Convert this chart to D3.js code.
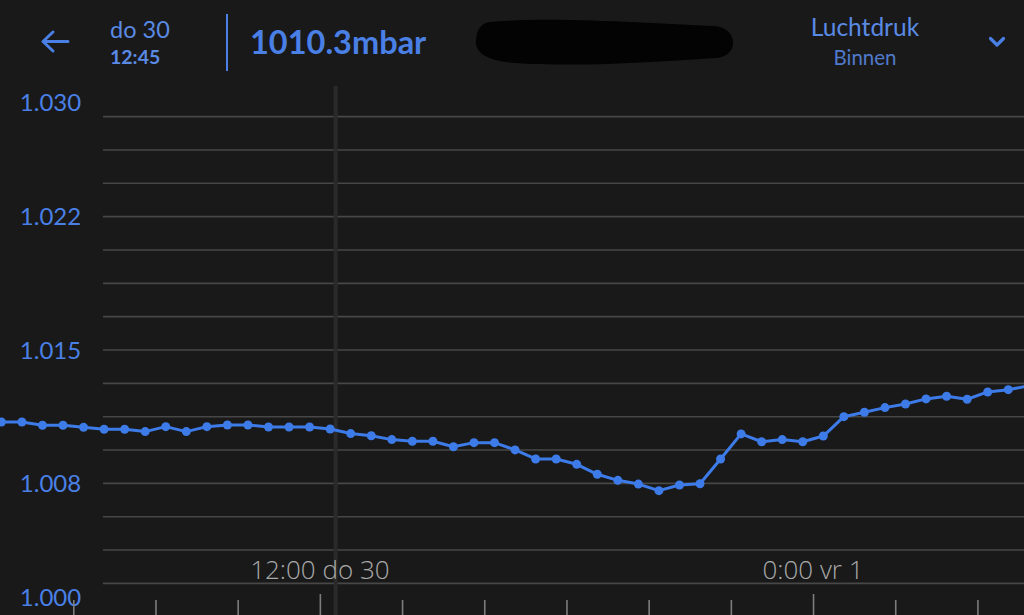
<!DOCTYPE html>
<html lang="nl">
<head>
  <meta charset="UTF-8">
  <title>Luchtdruk Binnen</title>
  <script src="https://d3js.org/d3.v7.min.js"></script>
  <style>
    html, body { margin: 0; padding: 0; background: #191919; }
    svg { display: block; }
  </style>
</head>
<body>
  <div id="chart"></div>

  <script>
    // Meetwaarden luchtdruk (mbar), elk half uur vanaf do 30 4:15
    const startTime = "2022-06-30T04:15:00";
    const pressure = [
      1010.95, 1010.95, 1010.77, 1010.77, 1010.65, 1010.54, 1010.54, 1010.41, 1010.69, 1010.41,
      1010.69, 1010.78, 1010.78, 1010.67, 1010.67, 1010.67, 1010.56, 1010.30, 1010.18, 1009.96,
      1009.87, 1009.87, 1009.56, 1009.79, 1009.79, 1009.38, 1008.87, 1008.87, 1008.57, 1008.01,
      1007.67, 1007.46, 1007.09, 1007.41, 1007.48, 1008.87, 1010.28, 1009.84, 1009.96, 1009.84,
      1010.16, 1011.25, 1011.50, 1011.76, 1011.96, 1012.25, 1012.40, 1012.23, 1012.64, 1012.77,
      1012.98
    ];

    // As-labels
    const yTickValues = [1000, 1007.5, 1015, 1022.5, 1030];
    const yTickLabels = ["1.000", "1.008", "1.015", "1.022", "1.030"];
    const xLabelTimes = ["2022-06-30T12:00:00", "2022-07-01T00:00:00"];
    const xLabels = ["12:00 do 30", "0:00 vr 1"];

    // Koptekst
    const headerDay = "do 30";
    const headerTime = "12:45";
    const headerValue = "1010.3mbar";
    const headerTitle = "Luchtdruk";
    const headerSub = "Binnen";
    const cursorTime = "2022-06-30T12:23:00";

    const width = 1024, height = 615;
    const blue = "#3d7be8";
    const textBlue = "#4a80e6";

    const data = pressure.map((v, i) => ({
      time: d3.timeMinute.offset(new Date(startTime), i * 30),
      value: v
    }));

    const x = d3.scaleTime()
      .domain([new Date("2022-06-30T04:13:00"), new Date("2022-07-01T05:08:00")])
      .range([0, width]);

    const y = d3.scaleLinear()
      .domain([1000, 1030])
      .range([616.7, 83.3]);

    const svg = d3.select("#chart").append("svg")
      .attr("width", width)
      .attr("height", height);

    svg.append("rect")
      .attr("width", width)
      .attr("height", height)
      .attr("fill", "#191919");

    // gridlijnen
    const gridValues = d3.range(1, 16).map((k) => 1000 + k * 1.875);
    svg.append("g")
      .selectAll("line")
      .data(gridValues)
      .join("line")
      .attr("x1", 103)
      .attr("x2", width)
      .attr("y1", (d) => y(d))
      .attr("y2", (d) => y(d))
      .attr("stroke", "#474747")
      .attr("stroke-width", 1.6);

    // cursor
    svg.append("line")
      .attr("x1", x(new Date(cursorTime)))
      .attr("x2", x(new Date(cursorTime)))
      .attr("y1", 86)
      .attr("y2", height)
      .attr("stroke", "#2a2a2a")
      .attr("stroke-width", 4);

    // y labels
    svg.append("g")
      .selectAll("text")
      .data(yTickValues)
      .join("text")
      .attr("x", 50.5)
      .attr("y", (d) => Math.min(597, Math.max(102, y(d))))
      .attr("dy", "0.36em")
      .attr("text-anchor", "middle")
      .attr("fill", textBlue)
      .style("font-family", "Lato, 'Noto Sans', sans-serif")
      .style("font-size", "24px")
      .text((d, i) => yTickLabels[i]);

    // x-as ticks
    const xAxis = d3.axisBottom(x)
      .ticks(d3.timeHour.every(2))
      .tickSize(16)
      .tickFormat("");

    const axisG = svg.append("g")
      .attr("transform", "translate(0,600)")
      .call(xAxis);
    axisG.select(".domain").remove();
    axisG.selectAll(".tick line")
      .attr("stroke", "#7c7c7c")
      .attr("stroke-width", 1.6)
      .attr("y1", (d) => d.getHours() % 12 === 0 ? -6 : 0);

    // x labels
    svg.append("g")
      .selectAll("text")
      .data(xLabelTimes)
      .join("text")
      .attr("x", (d) => x(new Date(d)))
      .attr("y", 578.5)
      .attr("text-anchor", "middle")
      .attr("fill", "#a9a9a9")
      .style("font-family", "'Open Sans', 'Noto Sans', sans-serif")
      .style("font-weight", 300)
      .style("font-size", "26px")
      .text((d, i) => xLabels[i]);

    // lijn
    const line = d3.line()
      .x((d) => x(d.time))
      .y((d) => y(d.value));

    svg.append("path")
      .datum(data)
      .attr("fill", "none")
      .attr("stroke", blue)
      .attr("stroke-width", 3)
      .attr("stroke-linejoin", "round")
      .attr("d", line);

    svg.append("g")
      .selectAll("circle")
      .data(data)
      .join("circle")
      .attr("cx", (d) => x(d.time))
      .attr("cy", (d) => y(d.value))
      .attr("r", 4.5)
      .attr("fill", blue);

    // --- koptekst ---
    const header = svg.append("g");
    header.append("rect")
      .attr("width", width)
      .attr("height", 84)
      .attr("fill", "#191919");

    // terug pijl
    header.append("path")
      .attr("d", "M68,41.5 H43 M53,32 L43,41.5 L53,51")
      .attr("fill", "none")
      .attr("stroke", textBlue)
      .attr("stroke-width", 3)
      .attr("stroke-linecap", "round")
      .attr("stroke-linejoin", "round");

    header.append("text")
      .attr("x", 110)
      .attr("y", 37.5)
      .attr("fill", "#5a8ae4")
      .style("font-family", "Lato, sans-serif")
      .style("font-size", "23.5px")
      .text(headerDay);

    header.append("text")
      .attr("x", 110)
      .attr("y", 64)
      .attr("fill", "#5a8ae4")
      .style("font-family", "Lato, sans-serif")
      .style("font-weight", 700)
      .style("font-size", "19.5px")
      .text(headerTime);

    header.append("line")
      .attr("x1", 227).attr("x2", 227)
      .attr("y1", 14).attr("y2", 71)
      .attr("stroke", textBlue)
      .attr("stroke-width", 2);

    header.append("text")
      .attr("x", 250)
      .attr("y", 53.5)
      .attr("fill", "#4a80e6")
      .style("font-family", "Lato, sans-serif")
      .style("font-weight", 700)
      .style("font-size", "32.5px")
      .text(headerValue);

    // zwarte vlek
    header.append("path")
      .attr("d", "M490,22 C560,16 650,24 715,26 C738,28 740,56 716,58 C650,62 600,66 540,64 C500,64 474,58 476,40 C477,28 482,23 490,22 Z")
      .attr("fill", "#030303");

    header.append("text")
      .attr("x", 865)
      .attr("y", 36)
      .attr("text-anchor", "middle")
      .attr("fill", "#5a8ae4")
      .style("font-family", "Lato, sans-serif")
      .style("font-size", "24.5px")
      .text(headerTitle);

    header.append("text")
      .attr("x", 865)
      .attr("y", 65)
      .attr("text-anchor", "middle")
      .attr("fill", "#5079cc")
      .style("font-family", "Lato, sans-serif")
      .style("font-size", "20.5px")
      .text(headerSub);

    header.append("path")
      .attr("d", "M990.5,38.5 L997,45 L1003.5,38.5")
      .attr("fill", "none")
      .attr("stroke", textBlue)
      .attr("stroke-width", 3.2)
      .attr("stroke-linecap", "round")
      .attr("stroke-linejoin", "round");
  </script>
</body>
</html>
